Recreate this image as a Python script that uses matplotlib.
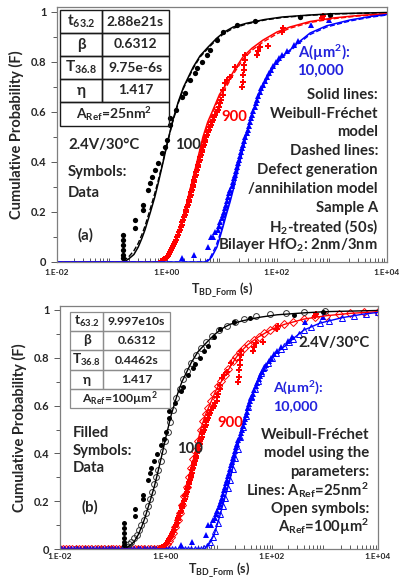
import matplotlib
matplotlib.use("Agg")
import matplotlib.pyplot as plt
import numpy as np
from matplotlib.patches import Rectangle
from matplotlib.ticker import FixedLocator, LogLocator, NullFormatter

plt.rcParams['font.family'] = ['Lato', 'DejaVu Sans']
plt.rcParams['font.weight'] = 'bold'
plt.rcParams['mathtext.fontset'] = 'custom'
plt.rcParams['mathtext.bf'] = 'Lato:bold'
plt.rcParams['mathtext.rm'] = 'Lato:bold'
plt.rcParams['mathtext.default'] = 'bf'

TXT = '#262626'
BLACK, RED, BLUE = '#000000', '#ff0000', '#0000ff'

# ---- model lines (Weibull-Frechet solid, defect generation/annihilation dashed)
wf100_t = [0.01, 0.165, 0.2, 0.25, 0.3, 0.35, 0.4, 0.5, 0.6, 0.7, 0.85, 1.0, 1.25, 1.6, 2.0, 3.0,
           4.0, 5.6, 8.0, 11, 16, 28, 60, 125, 400, 1000, 10000]
wf100_F = [0, 0, 0.012, 0.03, 0.06, 0.095, 0.13, 0.2, 0.26, 0.32, 0.40, 0.47, 0.56, 0.64, 0.70, 0.78,
           0.825, 0.86, 0.895, 0.92, 0.94, 0.955, 0.97, 0.98, 0.988, 0.993, 0.998]
dg100_t = [0.01, 0.15, 0.2, 0.25, 0.3, 0.35, 0.4, 0.5, 0.6, 0.7, 0.85, 1.0, 1.25, 1.6, 2.0, 3.0,
           4.0, 5.6, 8.0, 11, 16, 28, 60, 125, 400, 1000, 10000]
dg100_F = [0, 0, 0.02, 0.045, 0.075, 0.11, 0.145, 0.215, 0.275, 0.33, 0.405, 0.47, 0.555, 0.635, 0.695,
           0.775, 0.82, 0.855, 0.89, 0.915, 0.935, 0.952, 0.968, 0.978, 0.987, 0.992, 0.997]

wf900_t = [0.01, 0.85, 1.0, 1.13, 1.3, 1.5, 1.8, 2.1, 2.7, 3.5, 4.5, 5.5, 6.6, 9.0, 12.3, 17, 24, 35,
           56, 100, 172, 400, 1050, 3000, 10000]
wf900_F = [0, 0, 0.012, 0.03, 0.06, 0.09, 0.15, 0.2, 0.3, 0.4, 0.5, 0.56, 0.6, 0.67, 0.716, 0.77,
           0.82, 0.855, 0.888, 0.92, 0.94, 0.962, 0.976, 0.986, 0.993]
dg900_t = [0.01, 0.8, 0.95, 1.1, 1.3, 1.5, 1.8, 2.1, 2.7, 3.5, 4.5, 5.5, 6.6, 9.0, 12.3, 17, 24, 35,
           56, 100, 172, 400, 1050, 3000, 10000]
dg900_F = [0, 0, 0.015, 0.035, 0.065, 0.1, 0.155, 0.205, 0.3, 0.395, 0.49, 0.55, 0.59, 0.66, 0.705,
           0.76, 0.81, 0.847, 0.88, 0.913, 0.935, 0.958, 0.973, 0.984, 0.991]

wf1e4_t = [0.01, 5.3, 6.5, 8.1, 9.2, 10.4, 12, 14, 16.5, 19.5, 23, 27, 34, 43, 60, 85, 120, 172, 250,
           400, 800, 2120, 5000, 10000]
wf1e4_F = [0, 0, 0.02, 0.06, 0.1, 0.14, 0.19, 0.24, 0.3, 0.37, 0.435, 0.5, 0.58, 0.648, 0.72, 0.78,
           0.82, 0.848, 0.88, 0.916, 0.945, 0.968, 0.982, 0.99]
dg1e4_t = [0.01, 5.0, 6.2, 7.8, 9.0, 10.2, 12, 14, 16.5, 19.5, 23, 27, 34, 43, 60, 85, 120, 172, 250,
           400, 800, 2120, 5000, 10000]
dg1e4_F = [0, 0, 0.02, 0.065, 0.105, 0.145, 0.2, 0.25, 0.31, 0.375, 0.44, 0.5, 0.578, 0.645, 0.715,
           0.775, 0.815, 0.843, 0.875, 0.91, 0.94, 0.964, 0.979, 0.988]

# ---- measured data (filled symbols)
d100_t = [0.158, 0.158, 0.158, 0.158, 0.158, 0.158, 0.26, 0.26, 0.37, 0.37, 0.45, 0.49, 0.53, 0.6,
          0.68, 0.81, 0.92, 1.0, 1.13, 1.13, 1.45, 1.88, 2.12, 2.62, 3.2, 3.5, 4.3, 5.3, 6.1, 8.1,
          10.4, 18.8, 39, 262, 910]
d100_F = [0.016, 0.028, 0.048, 0.068, 0.088, 0.108, 0.136, 0.168, 0.208, 0.228, 0.288, 0.316, 0.34,
          0.368, 0.396, 0.436, 0.46, 0.49, 0.548, 0.576, 0.61, 0.66, 0.676, 0.728, 0.756, 0.776,
          0.80, 0.828, 0.848, 0.888, 0.92, 0.948, 0.965, 0.98, 0.99]

d900_t = [0.78, 0.85, 0.9, 0.95, 1.0, 1.05, 1.1, 1.15, 1.2, 1.25, 1.3, 1.36, 1.42, 1.48, 1.54, 1.6,
          1.66, 1.72, 1.78, 1.84, 1.9, 1.97, 2.04, 2.1, 2.18, 2.25, 2.32, 2.4, 2.46, 2.53, 2.6,
          2.68, 2.76, 2.84, 2.92, 3.0, 3.08, 3.16, 3.25, 3.34, 3.43, 3.52, 3.62, 3.72, 3.82, 3.93,
          4.05, 4.17, 4.3, 4.42, 4.55, 4.7, 4.85, 5.0, 5.2, 5.4, 5.6, 5.8, 6.0, 6.3, 6.6, 6.9, 7.2,
          7.6, 8.0, 8.5, 9.0, 9.3, 9.6, 10.4, 10.4, 11.3, 12.5, 14, 17, 23, 24, 24, 25, 25, 26, 26,
          43, 46, 49, 69, 124, 129, 650, 680]
d900_F = [0.004, 0.008, 0.012, 0.016, 0.02, 0.026, 0.032, 0.04, 0.048, 0.056, 0.064, 0.072, 0.08,
          0.09, 0.1, 0.11, 0.12, 0.13, 0.14, 0.15, 0.16, 0.17, 0.18, 0.19, 0.2, 0.21, 0.22, 0.23,
          0.24, 0.25, 0.26, 0.27, 0.28, 0.29, 0.3, 0.31, 0.32, 0.33, 0.34, 0.35, 0.36, 0.37, 0.38,
          0.39, 0.4, 0.41, 0.42, 0.43, 0.44, 0.45, 0.46, 0.47, 0.48, 0.49, 0.5, 0.51, 0.52, 0.53,
          0.54, 0.55, 0.56, 0.57, 0.58, 0.59, 0.6, 0.61, 0.62, 0.635, 0.648, 0.668, 0.688, 0.716,
          0.728, 0.74, 0.78, 0.70, 0.72, 0.75, 0.77, 0.79, 0.81, 0.83, 0.83, 0.845, 0.86, 0.865,
          0.92, 0.935, 0.975, 0.985]

d1e4_t = [1.9, 3.1, 5.6, 6.3, 7.0, 7.6, 8.3, 8.8, 9.3, 9.8, 10.3, 10.8, 11.3, 11.8, 12.4, 13, 13.6,
          14.2, 14.9, 15.6, 16.3, 17, 17.8, 18.6, 19.5, 20.4, 21.3, 22.3, 23.3, 24.4, 25.5, 26.7,
          28, 29.3, 30.7, 32.2, 33.8, 35.5, 37.3, 39.2, 41.2, 43.5, 46, 49, 52, 56, 60, 65, 71, 78,
          86, 95, 108, 125, 150, 200, 240, 420, 900]
d1e4_F = [0.015, 0.03, 0.06, 0.1, 0.1, 0.12, 0.13, 0.145, 0.16, 0.175, 0.19, 0.2, 0.215, 0.23,
          0.245, 0.26, 0.275, 0.29, 0.305, 0.32, 0.335, 0.35, 0.365, 0.38, 0.395, 0.41, 0.425,
          0.44, 0.455, 0.47, 0.485, 0.5, 0.515, 0.53, 0.545, 0.56, 0.575, 0.59, 0.605, 0.62, 0.635,
          0.65, 0.665, 0.68, 0.695, 0.71, 0.725, 0.74, 0.755, 0.77, 0.785, 0.8, 0.815, 0.83, 0.845,
          0.87, 0.885, 0.95, 0.97]

# ---- model with A_Ref = 100 um^2 (open symbols, panel b)
o100_t = [0.16, 0.18, 0.2, 0.22, 0.25, 0.28, 0.31, 0.34, 0.38, 0.42, 0.46, 0.5, 0.55, 0.6, 0.66,
          0.72, 0.8, 0.88, 0.97, 1.07, 1.2, 1.35, 1.55, 1.8, 2.1, 2.5, 3.0, 3.7, 4.6, 5.8, 7.5, 10,
          14, 20, 30, 50, 90, 180, 400, 1000]
o100_F = [0.005, 0.01, 0.02, 0.03, 0.045, 0.06, 0.08, 0.10, 0.12, 0.15, 0.18, 0.21, 0.24, 0.27,
          0.30, 0.33, 0.37, 0.41, 0.45, 0.49, 0.53, 0.58, 0.63, 0.67, 0.71, 0.745, 0.78, 0.81,
          0.84, 0.865, 0.89, 0.915, 0.935, 0.95, 0.963, 0.975, 0.983, 0.989, 0.993, 0.996]

o900_t = [0.010, 0.0115, 0.013, 0.015, 0.017, 0.02, 0.023, 0.026, 0.03, 0.034, 0.039, 0.045, 0.052,
          0.06, 0.069, 0.079, 0.09, 0.1, 0.115, 0.13, 0.15, 0.17, 0.2, 0.23, 0.26, 0.3, 0.34,
          0.39, 0.45, 0.52, 0.6, 0.69, 0.78, 0.85, 0.95, 1.05, 1.15, 1.25, 1.35, 1.5, 1.65, 1.8,
          2.0, 2.2, 2.45, 2.7, 3.0, 3.3, 3.6, 4.0, 4.5, 5.0, 5.6, 6.3, 7.2, 8.2, 9.5, 11, 13, 15,
          18, 21, 25, 30, 36, 45, 56, 70, 90, 120, 172, 250, 400, 650, 1050, 1800, 3000, 5500, 10000]
o900_F = [0, 0, 0, 0, 0, 0, 0, 0, 0, 0, 0, 0, 0, 0, 0, 0, 0, 0, 0, 0, 0, 0, 0, 0, 0, 0, 0, 0, 0, 0,
          0, 0, 0, 0.003, 0.01, 0.02, 0.035, 0.05, 0.065, 0.09, 0.12, 0.15, 0.185, 0.22, 0.26, 0.3,
          0.34, 0.375, 0.41, 0.45, 0.5, 0.535, 0.565, 0.59, 0.62, 0.65, 0.68, 0.705, 0.73, 0.755,
          0.785, 0.805, 0.825, 0.84, 0.857, 0.873, 0.888, 0.903, 0.915, 0.928, 0.94, 0.95, 0.962,
          0.97, 0.976, 0.982, 0.986, 0.99, 0.993]

o1e4_t = [0.0105, 0.012, 0.014, 0.016, 0.018, 0.021, 0.024, 0.028, 0.032, 0.037, 0.042, 0.048,
          0.055, 0.064, 0.073, 0.084, 0.096, 0.11, 0.125, 0.145, 0.165, 0.19, 0.22, 0.25, 0.29,
          0.33, 0.38, 0.44, 0.5, 0.58, 0.66, 0.76, 0.87, 1.0, 1.15, 1.3, 1.5, 1.75, 2.0, 2.3, 2.6,
          3.0, 3.5, 4.0, 4.6, 5.3, 6.0, 6.8, 7.6, 8.5, 9.5, 10.5, 11.7, 13, 14.5, 16, 18, 20, 22.5,
          25, 28, 32, 36, 41, 47, 54, 62, 72, 85, 100, 120, 145, 172, 210, 250, 320, 400, 550, 800,
          1200, 2120, 3500, 6000, 10000]
o1e4_F = [0, 0, 0, 0, 0, 0, 0, 0, 0, 0, 0, 0, 0, 0, 0, 0, 0, 0, 0, 0, 0, 0, 0, 0, 0, 0, 0, 0, 0, 0,
          0, 0, 0, 0, 0, 0, 0, 0, 0, 0, 0, 0, 0, 0, 0, 0.003, 0.012, 0.03, 0.05, 0.075, 0.11,
          0.145, 0.18, 0.215, 0.255, 0.29, 0.335, 0.38, 0.42, 0.47, 0.51, 0.555, 0.595, 0.635,
          0.67, 0.705, 0.735, 0.76, 0.78, 0.8, 0.82, 0.835, 0.848, 0.865, 0.88, 0.9, 0.916, 0.93,
          0.945, 0.955, 0.968, 0.976, 0.984, 0.99]

yticks = [0, 0.2, 0.4, 0.6, 0.8, 1.0]
ytick_labels = ['0', '0.2', '0.4', '0.6', '0.8', '1']
xticks = [1e-2, 1e0, 1e2, 1e4]
xtick_labels = ['1.E-02', '1.E+00', '1.E+02', '1.E+04']

W, H = 399, 585
fig = plt.figure(figsize=(W / 100, H / 100), dpi=100)


def fx(x):
    return x / W


def fy(y):
    return 1 - y / H


def ftext(x, y, s, **kw):
    kw.setdefault('color', TXT)
    kw.setdefault('fontsize', 10.7)
    kw.setdefault('fontweight', 'bold')
    kw.setdefault('va', 'center')
    fig.text(fx(x), fy(y), s, **kw)


def setup_axes(ax, ytop, xpad, xlabelpad):
    ax.set_xscale('log')
    ax.set_xlim(1e-2, 1e4)
    ax.set_ylim(0, ytop)
    ax.set_yticks(yticks)
    ax.set_yticklabels(ytick_labels, fontsize=8, fontweight='bold', color=TXT)
    ax.yaxis.set_minor_locator(FixedLocator([0.1, 0.3, 0.5, 0.7, 0.9]))
    ax.tick_params(axis='y', which='both', direction='out', length=4, width=0.7, colors='#595959',
                   labelcolor=TXT)
    ax.tick_params(axis='y', which='minor', length=3)
    ax.set_xticks(xticks)
    ax.set_xticklabels(xtick_labels, fontsize=6, fontweight='bold', color=TXT)
    ax.xaxis.set_minor_locator(LogLocator(base=10, subs=np.arange(2, 10), numticks=20))
    ax.xaxis.set_minor_formatter(NullFormatter())
    ax.tick_params(axis='x', which='both', direction='in', length=3, width=0.7, colors='#595959',
                   labelcolor=TXT, pad=xpad)
    for sp in ax.spines.values():
        sp.set_color('#7f7f7f')
        sp.set_linewidth(0.9)
    ax.set_ylabel('Cumulative Probability (F)', fontsize=10.5, fontweight='bold', color=TXT,
                  labelpad=5)
    ax.set_xlabel('T$_{BD\\_Form}$ (s)', fontsize=9, fontweight='bold', color=TXT,
                  labelpad=xlabelpad)


def draw_table(rows, ref, left, mid, right, ys, fs, edge, lw):
    for i in range(len(ys) - 1):
        y0, y1 = ys[i], ys[i + 1]
        if i < len(rows):
            fig.add_artist(Rectangle((fx(left), fy(y1)), fx(mid - left), fy(y0) - fy(y1),
                                     transform=fig.transFigure, fill=False, ec=edge, lw=lw))
            fig.add_artist(Rectangle((fx(mid), fy(y1)), fx(right - mid), fy(y0) - fy(y1),
                                     transform=fig.transFigure, fill=False, ec=edge, lw=lw))
            ftext((left + mid) / 2, (y0 + y1) / 2, rows[i][0], ha='center', fontsize=fs + 1)
            ftext((mid + right) / 2, (y0 + y1) / 2, rows[i][1], ha='center', fontsize=fs)
        else:
            fig.add_artist(Rectangle((fx(left), fy(y1)), fx(right - left), fy(y0) - fy(y1),
                                     transform=fig.transFigure, fill=False, ec=edge, lw=lw))
            ftext((left + right) / 2, (y0 + y1) / 2, ref, ha='center', fontsize=fs)


# ================= panel (a) =================
ax1 = fig.add_axes([fx(57), fy(262), fx(330), (262 - 7) / H])
ax1.plot(d100_t, d100_F, 'o', color=BLACK, ms=3.8, mew=0)
ax1.plot(d900_t, d900_F, 'P', color=RED, ms=4.4, mew=0)
ax1.plot(d1e4_t, d1e4_F, '^', color=BLUE, ms=4.4, mew=0)
ax1.plot(wf100_t, wf100_F, '-', color=BLACK, lw=1.1)
ax1.plot(dg100_t, dg100_F, '--', color=BLACK, lw=1.0)
ax1.plot(wf900_t, wf900_F, '-', color=RED, lw=1.1)
ax1.plot(dg900_t, dg900_F, '--', color=RED, lw=1.0)
ax1.plot(wf1e4_t, wf1e4_F, '-', color=BLUE, lw=1.1)
ax1.plot(dg1e4_t, dg1e4_F, '--', color=BLUE, lw=1.0)
setup_axes(ax1, 1.02, 5, 3)

draw_table([('t$_{63.2}$', '2.88e21s'), ('β', '0.6312'), ('T$_{36.8}$', '9.75e-6s'),
            ('η', '1.417')], 'A$_{Ref}$=25nm$^{2}$',
           60, 102, 169, [10, 33, 56, 79, 102, 126], 10, '#1a1a1a', 1.0)

ftext(68, 145, '2.4V/30°C')
ftext(68, 172, 'Symbols:')
ftext(68, 193, 'Data')
ftext(77, 235, '(a)')
ftext(175, 145, '100')
ftext(221, 117, '900', color=RED)
ftext(298, 53, 'A(µm$^{2}$):', color='#2222dd')
ftext(297, 71, '10,000', color='#2222dd')
right_a = ['Solid lines:', 'Weibull-Fréchet', 'model', 'Dashed lines:', 'Defect generation',
           '/annihilation model', 'Sample A', 'H$_{2}$-treated (50s)', 'Bilayer HfO$_{2}$: 2nm/3nm']
for i, s in enumerate(right_a):
    ftext(378, 95 + i * 18.75, s, ha='right')

# ================= panel (b) =================
ax2 = fig.add_axes([fx(60), fy(549), fx(318), (549 - 306) / H])
ax2.plot(o900_t, o900_F, 'D', color=RED, ms=3.6, mfc='none', mew=0.7)
ax2.plot(o1e4_t, o1e4_F, '^', color=BLUE, ms=4.2, mfc='none', mew=0.7)
ax2.plot(o100_t, o100_F, 'o', color='#333333', ms=4.2, mfc='none', mew=0.7)
ax2.plot(d100_t, d100_F, 'o', color=BLACK, ms=3.6, mew=0)
ax2.plot(d900_t, d900_F, 'P', color=RED, ms=4.2, mew=0)
ax2.plot(d1e4_t, d1e4_F, '^', color=BLUE, ms=4.2, mew=0)
ax2.plot(wf100_t, wf100_F, '-', color=BLACK, lw=1.0)
ax2.plot(wf900_t, wf900_F, '-', color=RED, lw=1.0)
ax2.plot(wf1e4_t, wf1e4_F, '-', color=BLUE, lw=1.0)
setup_axes(ax2, 243 / 239, 3, 0)

draw_table([('t$_{63.2}$', '9.997e10s'), ('β', '0.6312'), ('T$_{36.8}$', '0.4462s'),
            ('η', '1.417')], 'A$_{Ref}$=100µm$^{2}$',
           70, 103, 170, [312, 331, 350, 370, 389, 408], 8.8, '#8c8c8c', 0.9)

ftext(370, 343, '2.4V/30°C', ha='right')
ftext(273, 388, 'A(µm$^{2}$):', color='#2222dd', fontsize=10.3)
ftext(273, 406, '10,000', color='#2222dd', fontsize=10.3)
ftext(217, 423, '900', color=RED)
ftext(177, 449, '100')
ftext(73, 433, 'Filled')
ftext(73, 451, 'Symbols:')
ftext(73, 468, 'Data')
ftext(82, 507, '(b)')
right_b = ['Weibull-Fréchet', 'model using the', 'parameters:', 'Lines: A$_{Ref}$=25nm$^{2}$',
           'Open symbols:', 'A$_{Ref}$=100µm$^{2}$']
for i, s in enumerate(right_b):
    ftext(369, 435 + i * 18.4, s, ha='right')

fig.savefig('out.png', dpi=100)
